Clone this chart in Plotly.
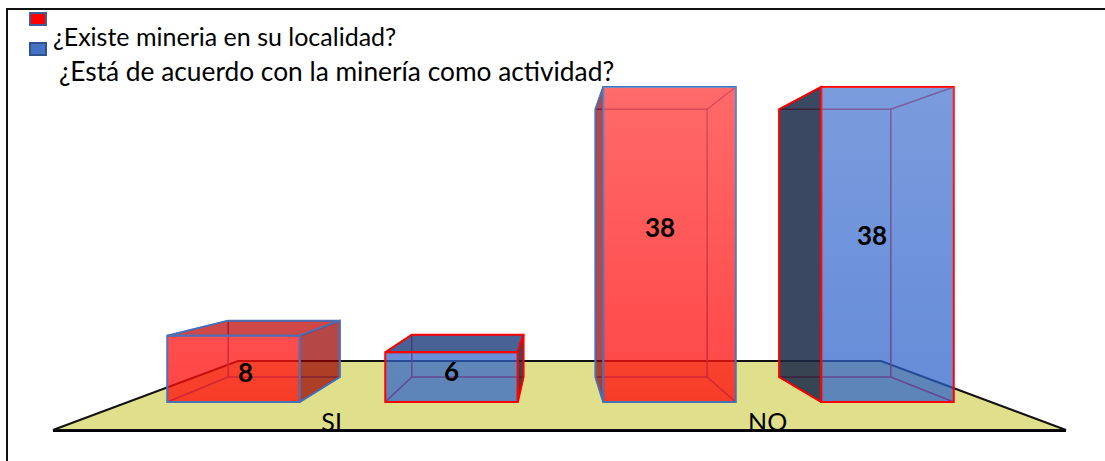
import plotly.graph_objects as go

# --- data ---
categories = ['SI', 'NO']
series_names = ['¿Existe mineria en su localidad?', '¿Está de acuerdo con la minería como actividad?']
existe = [8, 38]
acuerdo = [6, 38]

# --- page geometry (px) ---
W, H = 1105, 461
FLOOR_L, FLOOR_R, FLOOR_Y = 53, 1066, 430
BASE_Y = 402          # front edge of the bars
PX_PER_UNIT = 8.29
SLOT0 = 233.5         # centre of the first bar
SLOT_W = 218
BAR_W = 132.5 / SLOT_W

# fake perspective: back of a box is scaled towards this point
SCALE_X, SCALE_Y = 0.8425, 0.85
VP_X = (554 - SLOT0) / SLOT_W
BACK_LIFT = 25 / PX_PER_UNIT

RED, BLUE = '#4A70B8', '#FF0000'   # outline colours: red bars are edged blue and vice versa
FONT = 'Lato'


def px(x):
    return x / W


def py(y):
    return 1 - y / H


def back_x(x):
    return VP_X + (x - VP_X) * SCALE_X


def back_y(v):
    return BACK_LIFT + v * SCALE_Y


x_range = [(FLOOR_L - SLOT0) / SLOT_W, (FLOOR_R - SLOT0) / SLOT_W]
y_range = [(BASE_Y - FLOOR_Y) / PX_PER_UNIT, BASE_Y / PX_PER_UNIT]

fig = go.Figure()


def add_poly(xs, ys, fill=None, line=None, width=2):
    fig.add_trace(go.Scatter(
        x=xs, y=ys, mode='lines', fill='toself' if fill else 'none', fillcolor=fill,
        line=dict(color=line or 'rgba(0,0,0,0)', width=width if line else 0),
        hoverinfo='skip', showlegend=False, xaxis='x', yaxis='y'))


def add_box(slot, v, edge, face_top, face_side):
    l, r = slot - BAR_W / 2, slot + BAR_W / 2
    bl, br = back_x(l), back_x(r)
    bb, bt = back_y(0), back_y(v)
    # hidden edges, they show through the front face
    add_poly([bl, br, br, bl, bl], [bb, bb, bt, bt, bb], line=edge, width=1.5)
    add_poly([l, bl, None, r, br, None, l, bl, None, r, br], [0, bb, None, 0, bb, None, v, bt, None, v, bt],
             line=edge, width=1.5)
    # outer faces, only those that stick out of the front rectangle
    if bt > v:
        add_poly([l, bl, br, r, l], [v, bt, bt, v, v], fill=face_top, line=edge)
    if br > r:
        add_poly([r, br, br, r, r], [0, bb, bt, v, 0], fill=face_side, line=edge)
    if bl < l:
        add_poly([l, bl, bl, l, l], [0, bb, bt, v, 0], fill=face_side, line=edge)


red_slots = [2 * i for i in range(len(categories))]
blue_slots = [2 * i + 1 for i in range(len(categories))]

for slot, v in zip(red_slots, existe):
    add_box(slot, v, RED, 'rgba(190,0,0,0.72)', 'rgba(152,0,0,0.72)')
for slot, v in zip(blue_slots, acuerdo):
    add_box(slot, v, BLUE, 'rgba(40,70,130,0.85)', 'rgba(25,40,70,0.85)')

# front faces on an overlay axis so that they sit over the side faces
fig.add_trace(go.Bar(x=red_slots, y=existe, width=BAR_W, name=series_names[0],
                     marker=dict(color='rgba(255,7,7,0.75)', line=dict(color=RED, width=2)),
                     xaxis='x2', yaxis='y2', showlegend=False))
fig.add_trace(go.Bar(x=blue_slots, y=acuerdo, width=BAR_W, name=series_names[1],
                     marker=dict(color='rgba(41,96,201,0.72)', line=dict(color=BLUE, width=2)),
                     xaxis='x2', yaxis='y2', showlegend=False))

# lighter at the top of the tall bars
for slot, v, sheen in [(s, v, 0.2) for s, v in zip(red_slots, existe)] + [(s, v, 0.14) for s, v in zip(blue_slots, acuerdo)]:
    l, r = slot - BAR_W / 2, slot + BAR_W / 2
    a = sheen * v / 38
    fig.add_trace(go.Scatter(
        x=[l, r, r, l, l], y=[0, 0, v, v, 0], mode='lines', fill='toself',
        fillgradient=dict(type='vertical', colorscale=[[0, 'rgba(255,255,255,0)'], [1, f'rgba(255,255,255,{a})']]),
        line=dict(width=0), hoverinfo='skip', showlegend=False, xaxis='x2', yaxis='y2'))

fig.update_layout(
    width=W, height=H,
    margin=dict(l=0, r=0, t=0, b=0),
    paper_bgcolor='white', plot_bgcolor='rgba(0,0,0,0)',
    barmode='overlay',
    showlegend=False,
    font=dict(family=FONT, color='black'),
    xaxis=dict(domain=[px(FLOOR_L), px(FLOOR_R)], range=x_range, tickmode='array',
               tickvals=[0.45, 2.45], ticktext=categories, ticks='', showgrid=False, zeroline=False,
               showline=True, linecolor='black', linewidth=2, tickfont=dict(size=25, family=FONT, color='black'),
               ticklabelposition='inside', ticklabelstandoff=-4),
    yaxis=dict(domain=[py(FLOOR_Y), 1], range=y_range, visible=False),
    xaxis2=dict(domain=[px(FLOOR_L), px(FLOOR_R)], range=x_range, overlaying='x', visible=False),
    yaxis2=dict(domain=[py(FLOOR_Y), 1], range=y_range, overlaying='y', visible=False),
)

# floor, frame and legend keys
shapes = [
    dict(type='path', xref='paper', yref='paper', layer='below',
         path=f'M {px(FLOOR_L)} {py(FLOOR_Y)} L {px(238)} {py(361)} L {px(881)} {py(361)} L {px(FLOOR_R)} {py(FLOOR_Y)} Z',
         fillcolor='#E0E08C', line=dict(color='#111111', width=2)),
    dict(type='line', xref='paper', yref='paper', x0=px(7), x1=px(7), y0=0, y1=py(8), line=dict(color='#111111', width=2)),
    dict(type='line', xref='paper', yref='paper', x0=px(6), x1=1, y0=py(9), y1=py(9), line=dict(color='#111111', width=2)),
    dict(type='rect', xref='paper', yref='paper', x0=px(30), x1=px(46), y0=py(25), y1=py(13),
         fillcolor='#FF0000', line=dict(color='#3F5F9F', width=2)),
    dict(type='rect', xref='paper', yref='paper', x0=px(30), x1=px(46), y0=py(55), y1=py(43),
         fillcolor='#4472C4', line=dict(color='#2F528F', width=2)),
]
fig.update_layout(shapes=shapes)

# legend texts
fig.add_annotation(xref='paper', yref='paper', x=px(51), y=py(36), text=series_names[0], showarrow=False,
                   xanchor='left', yanchor='middle', font=dict(size=25, family=FONT))
fig.add_annotation(xref='paper', yref='paper', x=px(57), y=py(71), text=series_names[1], showarrow=False,
                   xanchor='left', yanchor='middle', font=dict(size=26.3, family=FONT))

# value labels, nudged to where they sit in the box
label_dx = [12, 0, -10, -16]
label_dy = [-0.4, 0.7, 2.1, 1.1]
slots = [red_slots[0], blue_slots[0], red_slots[1], blue_slots[1]]
values = [existe[0], acuerdo[0], existe[1], acuerdo[1]]
for slot, v, dx, dy in zip(slots, values, label_dx, label_dy):
    fig.add_annotation(xref='x2', yref='y2', x=slot, y=v / 2 + dy, xshift=dx, text=f'<b>{v}</b>', showarrow=False,
                       font=dict(size=26, family=FONT))

fig.write_html("out.html", config=dict(displayModeBar=False), post_script="document.body.style.margin='0';")
